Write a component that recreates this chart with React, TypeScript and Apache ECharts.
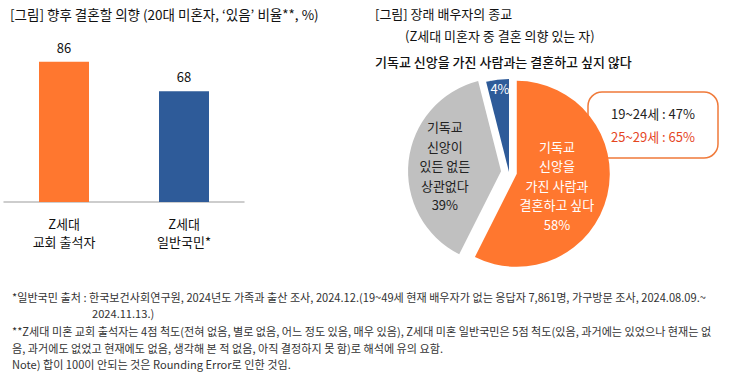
import React, { useEffect, useRef } from "react";
import * as echarts from "echarts";

const FONT = "'Noto Sans CJK KR', 'Noto Sans', sans-serif";

const barCategories = ["Z세대\n교회 출석자", "Z세대\n일반국민*"];
const barValues = [86, 68];
const barColors = ["#FF772F", "#2E5B99"];

const pieNames = [
  "기독교\n신앙을\n가진 사람과\n결혼하고 싶다",
  "기독교\n신앙이\n있든 없든\n상관없다",
  "기독교 신앙을 가진 사람과는 결혼하고 싶지 않다",
];
const pieValues = [58, 39, 4];
const pieColors = ["#FF772F", "#C0C0C0", "#2E5B99"];
const pieLabelColors = ["#FFFFFF", "#222222", "#FFFFFF"];

const ageGroups = ["19~24세", "25~29세"];
const ageValues = [47, 65];
const ageColors = ["#222222", "#E5461F"];

const leftTitle = "[그림] 향후 결혼할 의향 (20대 미혼자, ‘있음’ 비율**, %)";
const rightTitle1 = "[그림] 장래 배우자의 종교";
const rightTitle2 = "(Z세대 미혼자 중 결혼 의향 있는 자)";
const pieSubtitle = pieNames[2];

const footnotes = [
  "*일반국민 출처 : 한국보건사회연구원, 2024년도 가족과 출산 조사, 2024.12.(19~49세 현재 배우자가 없는 응답자 7,861명, 가구방문 조사, 2024.08.09.~",
  "2024.11.13.)",
  "**Z세대 미혼 교회 출석자는 4점 척도(전혀 없음, 별로 없음, 어느 정도 있음, 매우 있음), Z세대 미혼 일반국민은 5점 척도(있음, 과거에는 있었으나 현재는 없",
  "음, 과거에도 없었고 현재에도 없음, 생각해 본 적 없음, 아직 결정하지 못 함)로 해석에 유의 요함.",
  "Note) 합이 100이 안되는 것은 Rounding Error로 인한 것임.",
];
const footX = [12, 92, 12, 12, 12];
const footY = [297, 313, 331, 348, 364];

export default function App() {
  const ref = useRef<HTMLDivElement>(null);
  useEffect(() => {
    if (!ref.current) return;
    const chart = echarts.init(ref.current, undefined, { renderer: "svg" });
    const graphics: any[] = [];
    graphics.push({
      type: "text", left: 10, top: 7,
      style: { text: leftTitle, font: `13.5px ${FONT}`, fill: "#111" },
    });
    graphics.push({
      type: "text", left: 375, top: 7,
      style: { text: rightTitle1, font: `13px ${FONT}`, fill: "#111" },
    });
    graphics.push({
      type: "text", left: 405, top: 29,
      style: { text: rightTitle2, font: `13px ${FONT}`, fill: "#111" },
    });
    graphics.push({
      type: "text", left: 375, top: 55,
      style: { text: pieSubtitle, font: `500 13px ${FONT}`, fill: "#111" },
    });
    graphics.push({
      type: "rect", shape: { x: 588, y: 92, width: 130, height: 66, r: 14 },
      style: { fill: "#fff", stroke: "#F07A3A", lineWidth: 1.5 },
    });
    ageGroups.forEach((g, i) => {
      graphics.push({
        type: "text", x: 653, y: 113 + i * 23,
        style: {
          text: `${g} : ${ageValues[i]}%`, font: `13px ${FONT}`, fill: ageColors[i],
          align: "center", verticalAlign: "middle",
        },
      });
    });
    footnotes.forEach((t, i) => {
      graphics.push({
        type: "text", x: footX[i], y: footY[i],
        style: { text: t, font: `11.1px ${FONT}`, fill: "#333", verticalAlign: "middle" },
      });
    });

    chart.setOption({
      animation: false,
      grid: { left: 4, width: 240, top: 39, height: 163 },
      xAxis: {
        type: "category",
        data: barCategories,
        axisLine: { lineStyle: { color: "#BDBDBD", width: 1.5 } },
        axisTick: { show: false },
        axisLabel: {
          color: "#111", fontSize: 13, fontFamily: FONT, lineHeight: 18, margin: 12,
        },
      },
      yAxis: { type: "value", min: 0, max: 100, show: false, splitLine: { show: false } },
      series: [
        {
          type: "bar",
          barWidth: 50,
          data: barValues.map((v, i) => ({ value: v, itemStyle: { color: barColors[i] } })),
          label: {
            show: true, position: "top", distance: 8, color: "#111",
            fontSize: 13, fontFamily: FONT,
          },
        },
        {
          type: "pie",
          center: [509, 172],
          radius: 93,
          startAngle: 90,
          selectedMode: "multiple",
          selectedOffset: 8,
          data: pieValues.map((v, i) => ({
            value: v,
            name: pieNames[i],
            selected: i < 2,
            itemStyle: { color: pieColors[i] },
            label: { color: pieLabelColors[i] },
          })),
          label: {
            show: true,
            position: "inside",
            fontSize: 13,
            fontFamily: FONT,
            lineHeight: 19.5,
            formatter: (p: any) => (p.dataIndex === 2 ? `${p.value}%` : `${p.name}\n${p.value}%`),
          },
          labelLayout: (p: any) =>
            p.dataIndex === 2 ? { x: 500, y: 88 } : { dx: p.dataIndex === 0 ? -8 : -7 },
          emphasis: { disabled: true },
        },
      ],
      graphic: graphics,
    });
    return () => chart.dispose();
  }, []);
  return (
    <div
      ref={ref}
      style={{ position: "fixed", left: 0, top: 0, width: 731, height: 378, background: "#fff" }}
    />
  );
}
